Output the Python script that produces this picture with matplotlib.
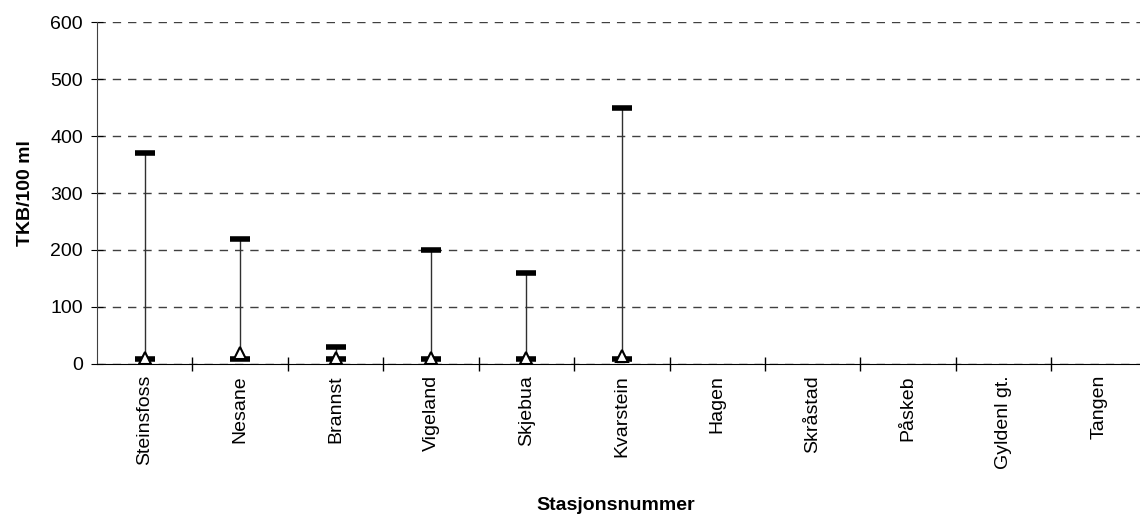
import numpy as np
import matplotlib
matplotlib.use('Agg')
import matplotlib.pyplot as plt

plt.rcParams['font.family'] = ['Liberation Sans', 'DejaVu Sans']

stations = ['Steinsfoss', 'Nesane', 'Brannst', 'Vigeland', 'Skjebua', 'Kvarstein',
            'Hagen', 'Skråstad', 'Påskeb', 'Gyldenl gt.', 'Tangen']
high = [370, 220, 30, 200, 160, 450]
low = [8, 8, 8, 8, 8, 8]
mid = [10, 20, 10, 10, 10, 14]

fig = plt.figure(figsize=(11.4, 5.14), dpi=100)
ax = fig.add_axes([0.085, 0.292, 0.915, 0.665])

x = np.arange(1, len(high) + 1)
ax.vlines(x, low, high, color='#303030', linewidth=1, zorder=2)
ax.plot(x, high, linestyle='none', marker='_', markersize=14, markeredgewidth=4,
        color='black', zorder=3)
ax.plot(x, low, linestyle='none', marker='_', markersize=14, markeredgewidth=4,
        color='black', zorder=3)
ax.plot(x, mid, linestyle='none', marker='^', markersize=9, markerfacecolor='white',
        markeredgecolor='black', markeredgewidth=1.5, zorder=4)

ax.set_ylim(0, 600)
ax.set_yticks(range(0, 601, 100))
ax.set_xlim(0.5, 0.5 + 1043 / 95.44)
ax.set_xticks(np.arange(1, len(stations) + 1))
ax.set_xticklabels(stations, rotation=90, fontsize=14)
ax.set_xticks(np.arange(1.5, len(stations), 1), minor=True)
ax.tick_params(axis='x', which='major', length=0, pad=8)
ax.tick_params(axis='x', which='minor', direction='inout', length=10, width=1)
ax.tick_params(axis='y', direction='inout', length=8, labelsize=14, pad=6)

ax.yaxis.grid(True, linestyle=(0, (6, 5)), color='#404040', linewidth=1)
ax.set_axisbelow(True)
for s in ['top', 'right']:
    ax.spines[s].set_visible(False)
ax.spines['left'].set_color('#404040')
ax.spines['bottom'].set_color('black')

ax.set_ylabel('TKB/100 ml', fontsize=14, fontweight='bold', labelpad=12)
fig.text(0.54, 0.0, 'Stasjonsnummer', ha='center', va='bottom', fontsize=14,
         fontweight='bold')

fig.savefig('out.png', dpi=100)
